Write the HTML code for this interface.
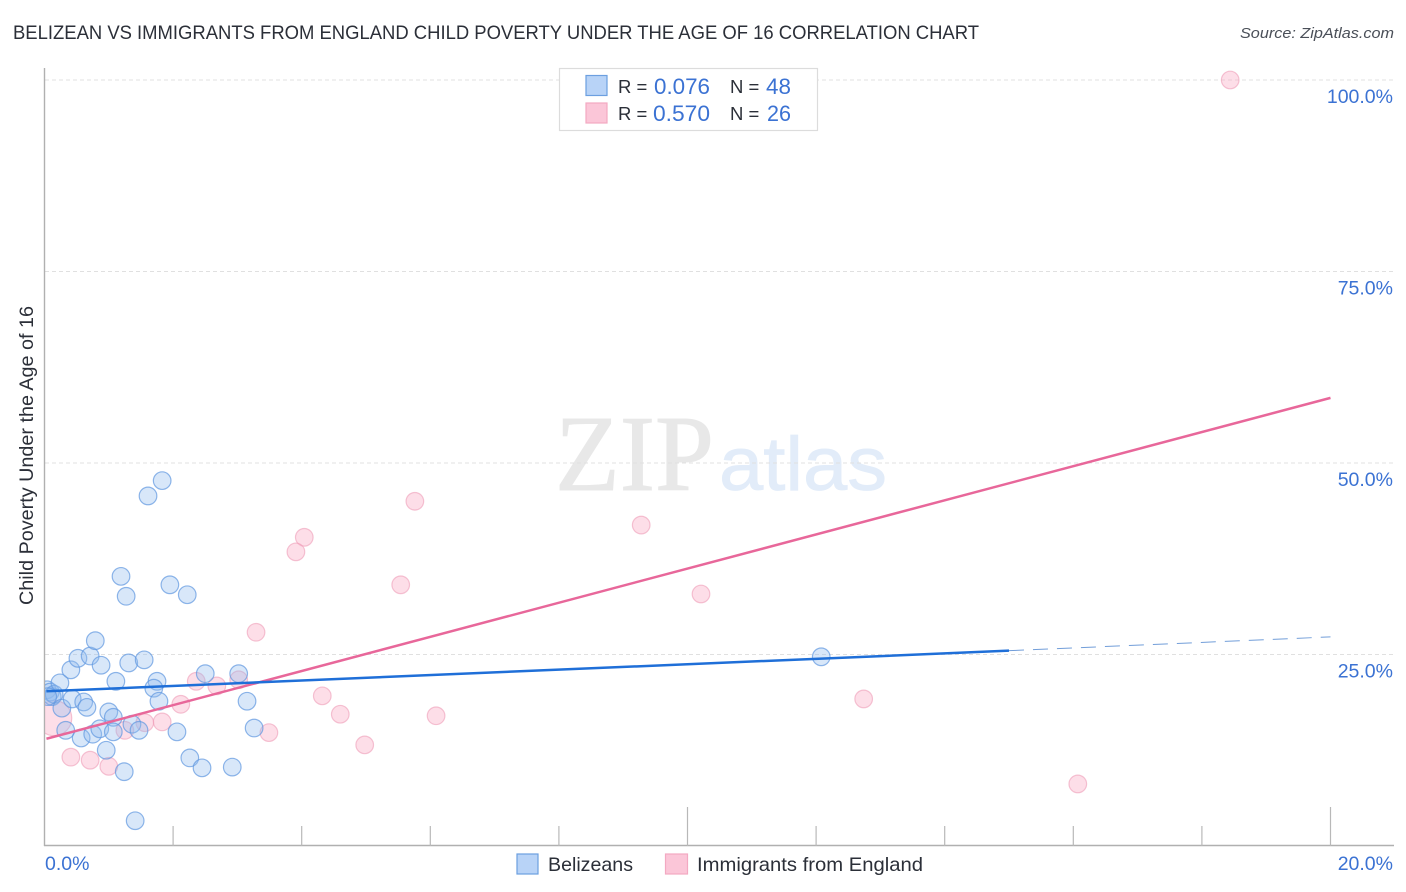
<!DOCTYPE html>
<html lang="en">
<head>
<meta charset="utf-8">
<title>Belizean vs Immigrants from England Child Poverty Correlation Chart</title>
<style>
html,body{margin:0;padding:0;background:#fff;}
svg{display:block;font-family:"Liberation Sans",sans-serif;}
</style>
</head>
<body>
<svg id="chart" xmlns="http://www.w3.org/2000/svg" width="1406" height="892" viewBox="0 0 1406 892">
  <defs><clipPath id="plot-clip"><rect x="45" y="60" width="1349" height="785"/></clipPath></defs>
  <rect x="0" y="0" width="1406" height="892" fill="#ffffff"/>
  <g>
    <text x="555" y="490" font-family="'Liberation Serif',serif" font-size="108" fill="#e8e8e8" stroke="#e8e8e8" stroke-width="1" textLength="159" lengthAdjust="spacingAndGlyphs">ZIP</text>
    <text x="719" y="490" font-size="76" fill="#e2ecf9" stroke="#e2ecf9" stroke-width="0.8" textLength="168" lengthAdjust="spacingAndGlyphs">atlas</text>
  </g>
  <g id="grid"></g>
  <g id="axes"></g>
  <g id="points-b" clip-path="url(#plot-clip)"></g>
  <g id="points-a" clip-path="url(#plot-clip)"></g>
  <g id="trends"></g>
  <g id="labels"></g>

  <text x="13" y="39" font-size="19.5" fill="#2b2f38" textLength="966" lengthAdjust="spacingAndGlyphs">BELIZEAN VS IMMIGRANTS FROM ENGLAND CHILD POVERTY UNDER THE AGE OF 16 CORRELATION CHART</text>
  <text x="1394" y="38" font-size="15" font-style="italic" fill="#4a4f58" text-anchor="end" textLength="154" lengthAdjust="spacingAndGlyphs">Source: ZipAtlas.com</text>
  <text transform="translate(33,455.5) rotate(-90)" font-size="19" fill="#2b2f38" text-anchor="middle" textLength="299" lengthAdjust="spacingAndGlyphs">Child Poverty Under the Age of 16</text>

  <g>
    <rect x="559.5" y="68.5" width="258" height="62" fill="#ffffff" stroke="#dcdcdc" stroke-width="1.2"/>
    <rect x="586" y="75.5" width="21" height="20" fill="#b8d3f7" stroke="#6c9fe0" stroke-width="1.2"/>
    <rect x="586" y="103" width="21" height="20" fill="#fbc6d8" stroke="#f3a9c2" stroke-width="1.2"/>
    <text x="618" y="93" font-size="18.5" fill="#2b2f38">R =</text>
    <text x="654" y="94" font-size="22" fill="#3b72d3" textLength="56" lengthAdjust="spacingAndGlyphs">0.076</text>
    <text x="730" y="93" font-size="18.5" fill="#2b2f38">N =</text>
    <text x="766" y="94" font-size="22" fill="#3b72d3" textLength="25" lengthAdjust="spacingAndGlyphs">48</text>
    <text x="618" y="120" font-size="18.5" fill="#2b2f38">R =</text>
    <text x="653" y="121" font-size="22" fill="#3b72d3" textLength="57" lengthAdjust="spacingAndGlyphs">0.570</text>
    <text x="730" y="120" font-size="18.5" fill="#2b2f38">N =</text>
    <text x="767" y="121" font-size="22" fill="#3b72d3" textLength="24" lengthAdjust="spacingAndGlyphs">26</text>
  </g>

  <g>
    <g>
      <rect x="517" y="854" width="21" height="20" fill="#b8d3f7" stroke="#6c9fe0" stroke-width="1.2"/>
      <text x="548" y="871" font-size="19.5" fill="#2b2f38" textLength="85" lengthAdjust="spacingAndGlyphs">Belizeans</text>
    </g>
    <g>
      <rect x="665.5" y="854" width="22" height="20" fill="#fbc6d8" stroke="#f3a9c2" stroke-width="1.2"/>
      <text x="697" y="871" font-size="19.5" fill="#2b2f38" textLength="226" lengthAdjust="spacingAndGlyphs">Immigrants from England</text>
    </g>
  </g>
</svg>
<script>
// Data
const belizeansX = [0.04,0.09,0.12,0.15,0.05,0.24,0.41,0.52,0.71,0.79,0.88,1.11,1.31,1.55,1.75,1.70,1.78,2.50,3.02,3.15,3.26,2.06,2.26,2.45,2.92,1.41,1.24,0.96,0.57,0.33,0.27,0.43,0.61,0.66,0.75,0.86,1.00,1.07,1.07,1.36,1.47,1.19,1.27,1.95,2.22,1.61,1.83,12.08];
const belizeansY = [20.4,20.1,19.5,19.8,19.5,21.3,23.0,24.5,24.8,26.8,23.6,21.5,23.9,24.3,21.5,20.6,18.9,22.5,22.5,18.9,15.4,14.9,11.5,10.2,10.3,3.3,9.7,12.5,14.1,15.1,18.0,19.2,18.8,18.1,14.6,15.3,17.5,16.8,14.9,15.9,15.1,35.2,32.6,34.1,32.8,45.7,47.7,24.7];
const immigrantsX = [18.44,5.76,4.04,3.91,9.28,5.54,10.21,3.29,4.32,4.60,4.98,6.09,12.74,16.07,3.49,3.02,2.68,2.36,2.12,1.83,1.56,1.25,1.00,0.71,0.41,0.15];
const immigrantsY = [100,45.0,40.3,38.4,41.9,34.1,32.9,27.9,19.6,17.2,13.2,17.0,19.2,8.1,14.8,21.7,20.9,21.5,18.5,16.2,16.1,15.1,10.4,11.2,11.6,16.7];
const immigrantsWeight = [1,1,1,1,1,1,1,1,1,1,1,1,1,1,1,1,1,1,1,1,1,1,1,1,1,4];
const belizeansTrendX = [0.03,15.0];
const belizeansTrendY = [20.2,25.5];
const belizeansDashX = [15.0,20.0];
const belizeansDashY = [25.5,27.3];
const immigrantsTrendX = [0.03,20.0];
const immigrantsTrendY = [14.0,58.5];
const yTickValues = [25,50,75,100];
const yTickLabels = ["25.0%","50.0%","75.0%","100.0%"];
const xTickValues = [2,4,6,8,10,12,14,16,18,20];
const xMajorTicks = [10,20];
const xEndLabels = ["0.0%","20.0%"];

// Axis functions
const sx = v => 44.5 + v * 64.3;
const sy = v => 846 - v * 7.66;
const NS = "http://www.w3.org/2000/svg";
function make(tag, attrs, parent, text) {
  const el = document.createElementNS(NS, tag);
  for (const k in attrs) el.setAttribute(k, attrs[k]);
  if (text !== undefined) el.textContent = text;
  parent.appendChild(el);
  return el;
}
const grid = document.getElementById("grid");
const axes = document.getElementById("axes");
const labels = document.getElementById("labels");
const trends = document.getElementById("trends");

yTickValues.forEach((v, i) => {
  const g = make("line", {x1: 45, x2: 1394, y1: sy(v), y2: sy(v), stroke: "#e0e0e0", "stroke-width": 1, "stroke-dasharray": "4 3"}, grid);
  
  
  const t = make("text", {x: 1393, y: sy(v) + 23, "font-size": 19.5, fill: "#3b72d3", "text-anchor": "end"}, labels, yTickLabels[i]);
  
  
});

const yAxis = make("line", {x1: 44.5, x2: 44.5, y1: 68, y2: 846, stroke: "#b0b0b0", "stroke-width": 1.4}, axes);


const xAxis = make("line", {x1: 44, x2: 1394, y1: 845.5, y2: 845.5, stroke: "#b0b0b0", "stroke-width": 1.4}, axes);



xTickValues.forEach(v => {
  const top = xMajorTicks.includes(v) ? 807 : 826;
  const tk = make("line", {x1: sx(v), x2: sx(v), y1: top, y2: 846, stroke: "#b8b8b8", "stroke-width": 1.2}, axes);
  
  
});

const xl0 = make("text", {x: 45, y: 870, "font-size": 19.5, fill: "#3b72d3"}, labels, xEndLabels[0]);


const xl1 = make("text", {x: 1393, y: 870, "font-size": 19.5, fill: "#3b72d3", "text-anchor": "end"}, labels, xEndLabels[1]);



const baseR = 8.8;
const groupB = document.getElementById("points-b");
immigrantsX.forEach((x, i) => {
  const c = make("circle", {cx: sx(x), cy: sy(immigrantsY[i]), r: baseR * Math.sqrt(immigrantsWeight[i]), fill: "#f9a8c2", "fill-opacity": 0.38, stroke: "#ee9db8", "stroke-opacity": 0.6, "stroke-width": 1.2}, groupB);
  
  
});
const groupA = document.getElementById("points-a");
belizeansX.forEach((x, i) => {
  const c = make("circle", {cx: sx(x), cy: sy(belizeansY[i]), r: baseR, fill: "#93bcef", "fill-opacity": 0.36, stroke: "#5f97e0", "stroke-opacity": 0.7, "stroke-width": 1.2}, groupA);
  
  
});

const dash = make("line", {x1: sx(belizeansDashX[0]), y1: sy(belizeansDashY[0]), x2: sx(belizeansDashX[1]), y2: sy(belizeansDashY[1]), stroke: "#4f86cf", "stroke-width": 1, "stroke-dasharray": "15 9", "stroke-opacity": 0.8}, trends);


const pinkLine = make("line", {x1: sx(immigrantsTrendX[0]), y1: sy(immigrantsTrendY[0]), x2: sx(immigrantsTrendX[1]), y2: sy(immigrantsTrendY[1]), stroke: "#e8679a", "stroke-width": 2.5}, trends);


const blueLine = make("line", {x1: sx(belizeansTrendX[0]), y1: sy(belizeansTrendY[0]), x2: sx(belizeansTrendX[1]), y2: sy(belizeansTrendY[1]), stroke: "#1f6fd8", "stroke-width": 2.5}, trends);


</script>
</body>
</html>
